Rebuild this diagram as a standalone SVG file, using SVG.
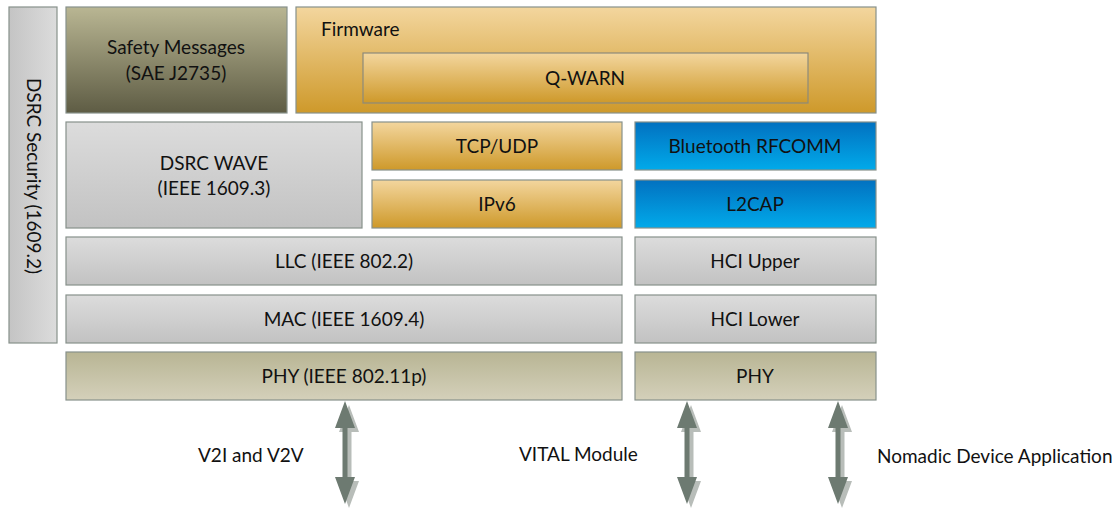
<svg xmlns="http://www.w3.org/2000/svg" width="1120" height="508" viewBox="0 0 1120 508">
  <defs>
    <linearGradient id="gGray" x1="0" y1="0" x2="0" y2="1">
      <stop offset="0" stop-color="#dcdcdc"/>
      <stop offset="1" stop-color="#c2c2c2"/>
    </linearGradient>
    <linearGradient id="gSide" x1="0" y1="0" x2="1" y2="0">
      <stop offset="0" stop-color="#c4c4c4"/>
      <stop offset="1" stop-color="#dcdcdc"/>
    </linearGradient>
    <linearGradient id="gOlive" x1="0" y1="0" x2="0" y2="1">
      <stop offset="0" stop-color="#b9b693"/>
      <stop offset="1" stop-color="#5e5c44"/>
    </linearGradient>
    <linearGradient id="gGold" x1="0" y1="0" x2="0" y2="1">
      <stop offset="0" stop-color="#f3d69e"/>
      <stop offset="1" stop-color="#ce992a"/>
    </linearGradient>
    <linearGradient id="gBlue" x1="0" y1="0" x2="0" y2="1">
      <stop offset="0" stop-color="#0271c0"/>
      <stop offset="1" stop-color="#01aaea"/>
    </linearGradient>
    <linearGradient id="gPhy" x1="0" y1="0" x2="0" y2="1">
      <stop offset="0" stop-color="#b8b594"/>
      <stop offset="1" stop-color="#d4d0ba"/>
    </linearGradient>
    <!-- double-headed vertical arrow, centred on x=0, from y=0 to y=103 -->
    <path id="dblArrow" d="M0,0 L10,27 L2.5,27 L2.5,76 L10,76 L0,103 L-10,76 L-2.5,76 L-2.5,27 L-10,27 Z"/>
  </defs>
  <style>
    .box { stroke: #87918b; stroke-width: 1.2; }
    .lbl { font-family: Lato, "Liberation Sans", sans-serif; font-size: 19px; fill: #111; text-anchor: middle; }
    .cap { font-family: Lato, "Liberation Sans", sans-serif; font-size: 19px; fill: #111; }
    .shadow { fill: #b8bdb9; }
    .arrow { fill: #6d7a71; }
  </style>

  <rect width="1120" height="508" fill="#ffffff"/>

  <g id="dsrc-security">
    <rect class="box" x="9" y="7" width="48" height="336" fill="url(#gSide)"/>
    <text class="lbl" transform="translate(27,176) rotate(90)">DSRC Security (1609.2)</text>
  </g>

  <g id="safety-messages">
    <rect class="box" x="66" y="7" width="221" height="106" fill="url(#gOlive)"/>
    <text class="lbl" x="176" y="54">Safety Messages</text>
    <text class="lbl" x="176" y="80">(SAE J2735)</text>
  </g>

  <g id="firmware">
    <rect class="box" x="296" y="7" width="580" height="106" fill="url(#gGold)"/>
    <text class="cap" x="321" y="36">Firmware</text>
  </g>

  <g id="q-warn">
    <rect x="363" y="53" width="445" height="50" fill="url(#gGold)" stroke="#8d8a7a" stroke-width="1.2"/>
    <text class="lbl" x="585" y="85">Q-WARN</text>
  </g>

  <g id="dsrc-wave">
    <rect class="box" x="66" y="122" width="296" height="106" fill="url(#gGray)"/>
    <text class="lbl" x="214" y="170">DSRC WAVE</text>
    <text class="lbl" x="214" y="195">(IEEE 1609.3)</text>
  </g>

  <g id="tcp-udp">
    <rect class="box" x="372" y="122" width="250" height="48" fill="url(#gGold)"/>
    <text class="lbl" x="497" y="153">TCP/UDP</text>
  </g>

  <g id="ipv6">
    <rect class="box" x="372" y="180" width="250" height="48" fill="url(#gGold)"/>
    <text class="lbl" x="497" y="211">IPv6</text>
  </g>

  <g id="bt-rfcomm">
    <rect class="box" x="635" y="122" width="241" height="48" fill="url(#gBlue)"/>
    <text class="lbl" x="755" y="153">Bluetooth RFCOMM</text>
  </g>

  <g id="l2cap">
    <rect class="box" x="635" y="180" width="241" height="48" fill="url(#gBlue)"/>
    <text class="lbl" x="755" y="211">L2CAP</text>
  </g>

  <g id="llc">
    <rect class="box" x="66" y="237" width="556" height="48" fill="url(#gGray)"/>
    <text class="lbl" x="344" y="268">LLC (IEEE 802.2)</text>
  </g>

  <g id="hci-upper">
    <rect class="box" x="635" y="237" width="241" height="48" fill="url(#gGray)"/>
    <text class="lbl" x="755" y="268">HCI Upper</text>
  </g>

  <g id="mac">
    <rect class="box" x="66" y="295" width="556" height="48" fill="url(#gGray)"/>
    <text class="lbl" x="344" y="326">MAC (IEEE 1609.4)</text>
  </g>

  <g id="hci-lower">
    <rect class="box" x="635" y="295" width="241" height="48" fill="url(#gGray)"/>
    <text class="lbl" x="755" y="326">HCI Lower</text>
  </g>

  <g id="phy-dsrc">
    <rect class="box" x="66" y="352" width="556" height="48" fill="url(#gPhy)"/>
    <text class="lbl" x="344" y="383">PHY (IEEE 802.11p)</text>
  </g>

  <g id="phy-bt">
    <rect class="box" x="635" y="352" width="241" height="48" fill="url(#gPhy)"/>
    <text class="lbl" x="755" y="383">PHY</text>
  </g>

  <g id="connectors">
    <use href="#dblArrow" class="shadow" x="349" y="405"/>
    <use href="#dblArrow" class="arrow" x="345" y="401"/>
    <use href="#dblArrow" class="shadow" x="691" y="405"/>
    <use href="#dblArrow" class="arrow" x="687" y="401"/>
    <use href="#dblArrow" class="shadow" x="842" y="405"/>
    <use href="#dblArrow" class="arrow" x="838" y="401"/>
  </g>

  <g id="link-labels">
    <text class="cap" x="198" y="462">V2I and V2V</text>
    <text class="cap" x="519" y="461">VITAL Module</text>
    <text class="cap" x="877" y="463">Nomadic Device Application</text>
  </g>
</svg>
